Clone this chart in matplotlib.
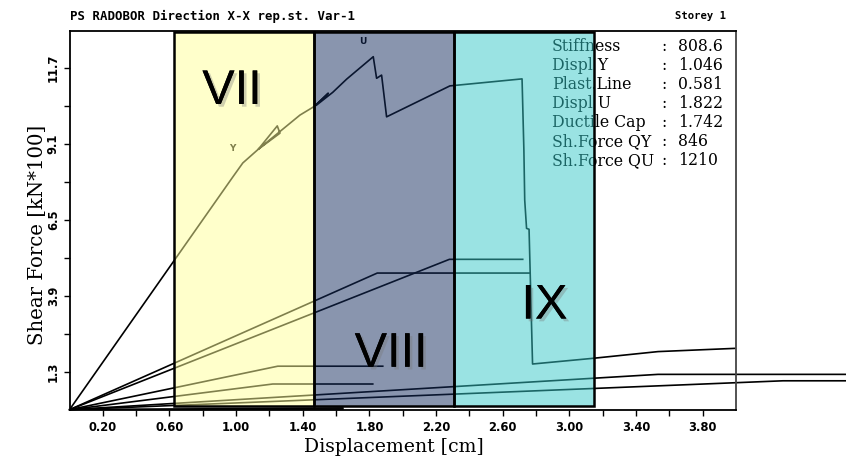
import matplotlib
matplotlib.use("Agg")
import matplotlib.pyplot as plt
import matplotlib.patheffects as pe
import numpy as np

# ---------------- data ----------------
# main pushover curve
main_x = [0.0, 0.98, 1.04, 1.133, 1.247, 1.263, 1.133, 1.383, 1.467, 1.553, 1.48, 1.58, 1.663,
          1.823, 1.843, 1.873, 1.903, 2.283, 2.716, 2.727, 2.732, 2.743, 2.758, 2.779, 3.142,
          3.532, 3.992]
main_y = [0.0, 7.97, 8.45, 8.92, 9.72, 9.47, 8.92, 10.09, 10.38, 10.84, 10.42, 10.87, 11.32,
          12.09, 11.35, 11.46, 10.03, 11.09, 11.33, 8.89, 7.18, 6.21, 6.18, 1.565, 1.76,
          1.99, 2.10]

# other storey / element curves
curve_a_x = [0.0, 1.847, 2.76]
curve_a_y = [0.0, 4.68, 4.68]
curve_b_x = [0.0, 2.28, 2.72]
curve_b_y = [0.0, 5.15, 5.15]
curve_c_x = [0.0, 1.25, 1.88]
curve_c_y = [0.0, 1.49, 1.49]
curve_d_x = [0.0, 1.22, 1.82]
curve_d_y = [0.0, 0.88, 0.88]
curve_e_x = [0.0, 3.532, 4.70]
curve_e_y = [0.0, 1.21, 1.21]
curve_f_x = [0.0, 4.282, 4.70]
curve_f_y = [0.0, 0.99, 0.99]
curve_g_x = [0.0, 1.64]
curve_g_y = [0.0, 0.06]
curve_h_x = [0.0, 1.64]
curve_h_y = [0.0, 0.025]

# performance zones
zone_edges = [0.627, 1.467, 2.31, 3.146]
zone_names = ["VII", "VIII", "IX"]
zone_colors = ["#ffff99", "#152d5f", "#37c9c9"]
zone_label_xy = [(0.975, 10.9), (1.93, 1.9), (2.85, 3.55)]

# point markers
yield_pt = (0.98, 8.95)
ult_pt = (1.76, 12.6)

# info block
info_labels = ["Stiffness", "Displ Y", "Plast.Line", "Displ U", "Ductile Cap",
               "Sh.Force QY", "Sh.Force QU"]
info_values = ["808.6", "1.046", "0.581", "1.822", "1.742", "846", "1210"]

title_text = "PS RADOBOR Direction X-X rep.st. Var-1"
storey_text = "Storey 1"

x_major = [0.20, 0.60, 1.00, 1.40, 1.80, 2.20, 2.60, 3.00, 3.40, 3.80]
x_minor = [0.40, 0.80, 1.20, 1.60, 2.00, 2.40, 2.80, 3.20, 3.60]
y_major = [1.3, 3.9, 6.5, 9.1, 11.7]
y_minor = [2.6, 5.2, 7.8, 10.4]

# ---------------- figure ----------------
W, H = 846, 461
fig = plt.figure(figsize=(W / 100, H / 100), dpi=100)
ax = fig.add_axes([69.5 / W, 1 - 409.7 / H, (736 - 69.5) / W, (409.7 - 31) / H])
ax.set_xlim(0, 4.0)
ax.set_ylim(0, 12.97)

lw = 1.2
ax.plot(main_x, main_y, color="black", lw=lw, zorder=2)
for cx, cy in [(curve_a_x, curve_a_y), (curve_b_x, curve_b_y), (curve_c_x, curve_c_y),
               (curve_d_x, curve_d_y), (curve_g_x, curve_g_y), (curve_h_x, curve_h_y)]:
    ax.plot(cx, cy, color="black", lw=lw, zorder=2)
for cx, cy in [(curve_e_x, curve_e_y), (curve_f_x, curve_f_y)]:
    ax.plot(cx, cy, color="black", lw=lw, zorder=2, clip_on=False)

ax.text(yield_pt[0], yield_pt[1], "Y", fontsize=6.5, fontweight="bold", ha="center",
        va="center", family="DejaVu Sans", zorder=2)
ax.text(ult_pt[0], ult_pt[1], "U", fontsize=6.5, fontweight="bold", ha="center",
        va="center", family="DejaVu Sans", zorder=2)

# info block (drawn under the translucent overlay)
for i, (lab, val) in enumerate(zip(info_labels, info_values)):
    ypix = 51 + i * 19
    yf = 1 - ypix / H
    kw = dict(fontsize=11.3, family="DejaVu Serif", va="baseline", ha="left",
              transform=fig.transFigure, zorder=2)
    ax.text(552 / W, yf, lab, **kw)
    ax.text(661 / W, yf, ":", **kw)
    ax.text(678 / W, yf, val, **kw)

# zones: translucent overlay + opaque black frame
ybot, ytop = 0.127, 12.94
for i in range(3):
    x0, x1 = zone_edges[i], zone_edges[i + 1]
    ax.add_patch(plt.Rectangle((x0, ybot), x1 - x0, ytop - ybot, facecolor=zone_colors[i],
                               edgecolor="none", alpha=0.5, zorder=4))
    ax.add_patch(plt.Rectangle((x0, ybot), x1 - x0, ytop - ybot, facecolor="none",
                               edgecolor="black", lw=1.8, zorder=6))
    lx, ly = zone_label_xy[i]
    ax.text(lx, ly, zone_names[i], fontsize=35, family="Liberation Sans", ha="center",
            va="center", color="black", zorder=8,
            path_effects=[pe.withSimplePatchShadow(offset=(2, -2), shadow_rgbFace="#777777",
                                                   alpha=0.35), pe.Normal()])

# axes styling
for s in ["left", "bottom", "top"]:
    ax.spines[s].set_color("black")
    ax.spines[s].set_linewidth(1.3)
ax.spines["right"].set_color("#444444")
ax.spines["right"].set_linewidth(1.3)

ax.set_xticks(x_major)
ax.set_xticks(x_minor, minor=True)
ax.set_xticklabels([f"{v:.2f}" for v in x_major])
ax.set_yticks(y_major)
ax.set_yticks(y_minor, minor=True)
ax.set_yticklabels([f"{v:.1f}" for v in y_major], rotation=90, va="center")
ax.tick_params(axis="both", which="both", direction="out", length=4, width=1, color="black")
ax.tick_params(axis="x", which="major", labelsize=8.3, pad=4)
ax.tick_params(axis="y", which="major", labelsize=8.3, pad=3)
for t in ax.get_xticklabels() + ax.get_yticklabels():
    t.set_fontweight("bold")
    t.set_family("DejaVu Sans")

fig.text(394 / W, 1 - 447 / H, "Displacement [cm]", fontsize=13.6, family="DejaVu Serif",
         ha="center", va="center")
fig.text(37 / W, 1 - 235 / H, "Shear Force [kN*100]", fontsize=14.2, family="DejaVu Serif",
         ha="center", va="center", rotation=90)
fig.text(70 / W, 1 - 16 / H, title_text, fontsize=8.9, family="DejaVu Sans Mono",
         fontweight="bold", ha="left", va="center")
fig.text(675 / W, 1 - 16 / H, storey_text, fontsize=7.6, family="DejaVu Sans Mono",
         fontweight="bold", ha="left", va="center")

fig.savefig("out.png", dpi=100)
